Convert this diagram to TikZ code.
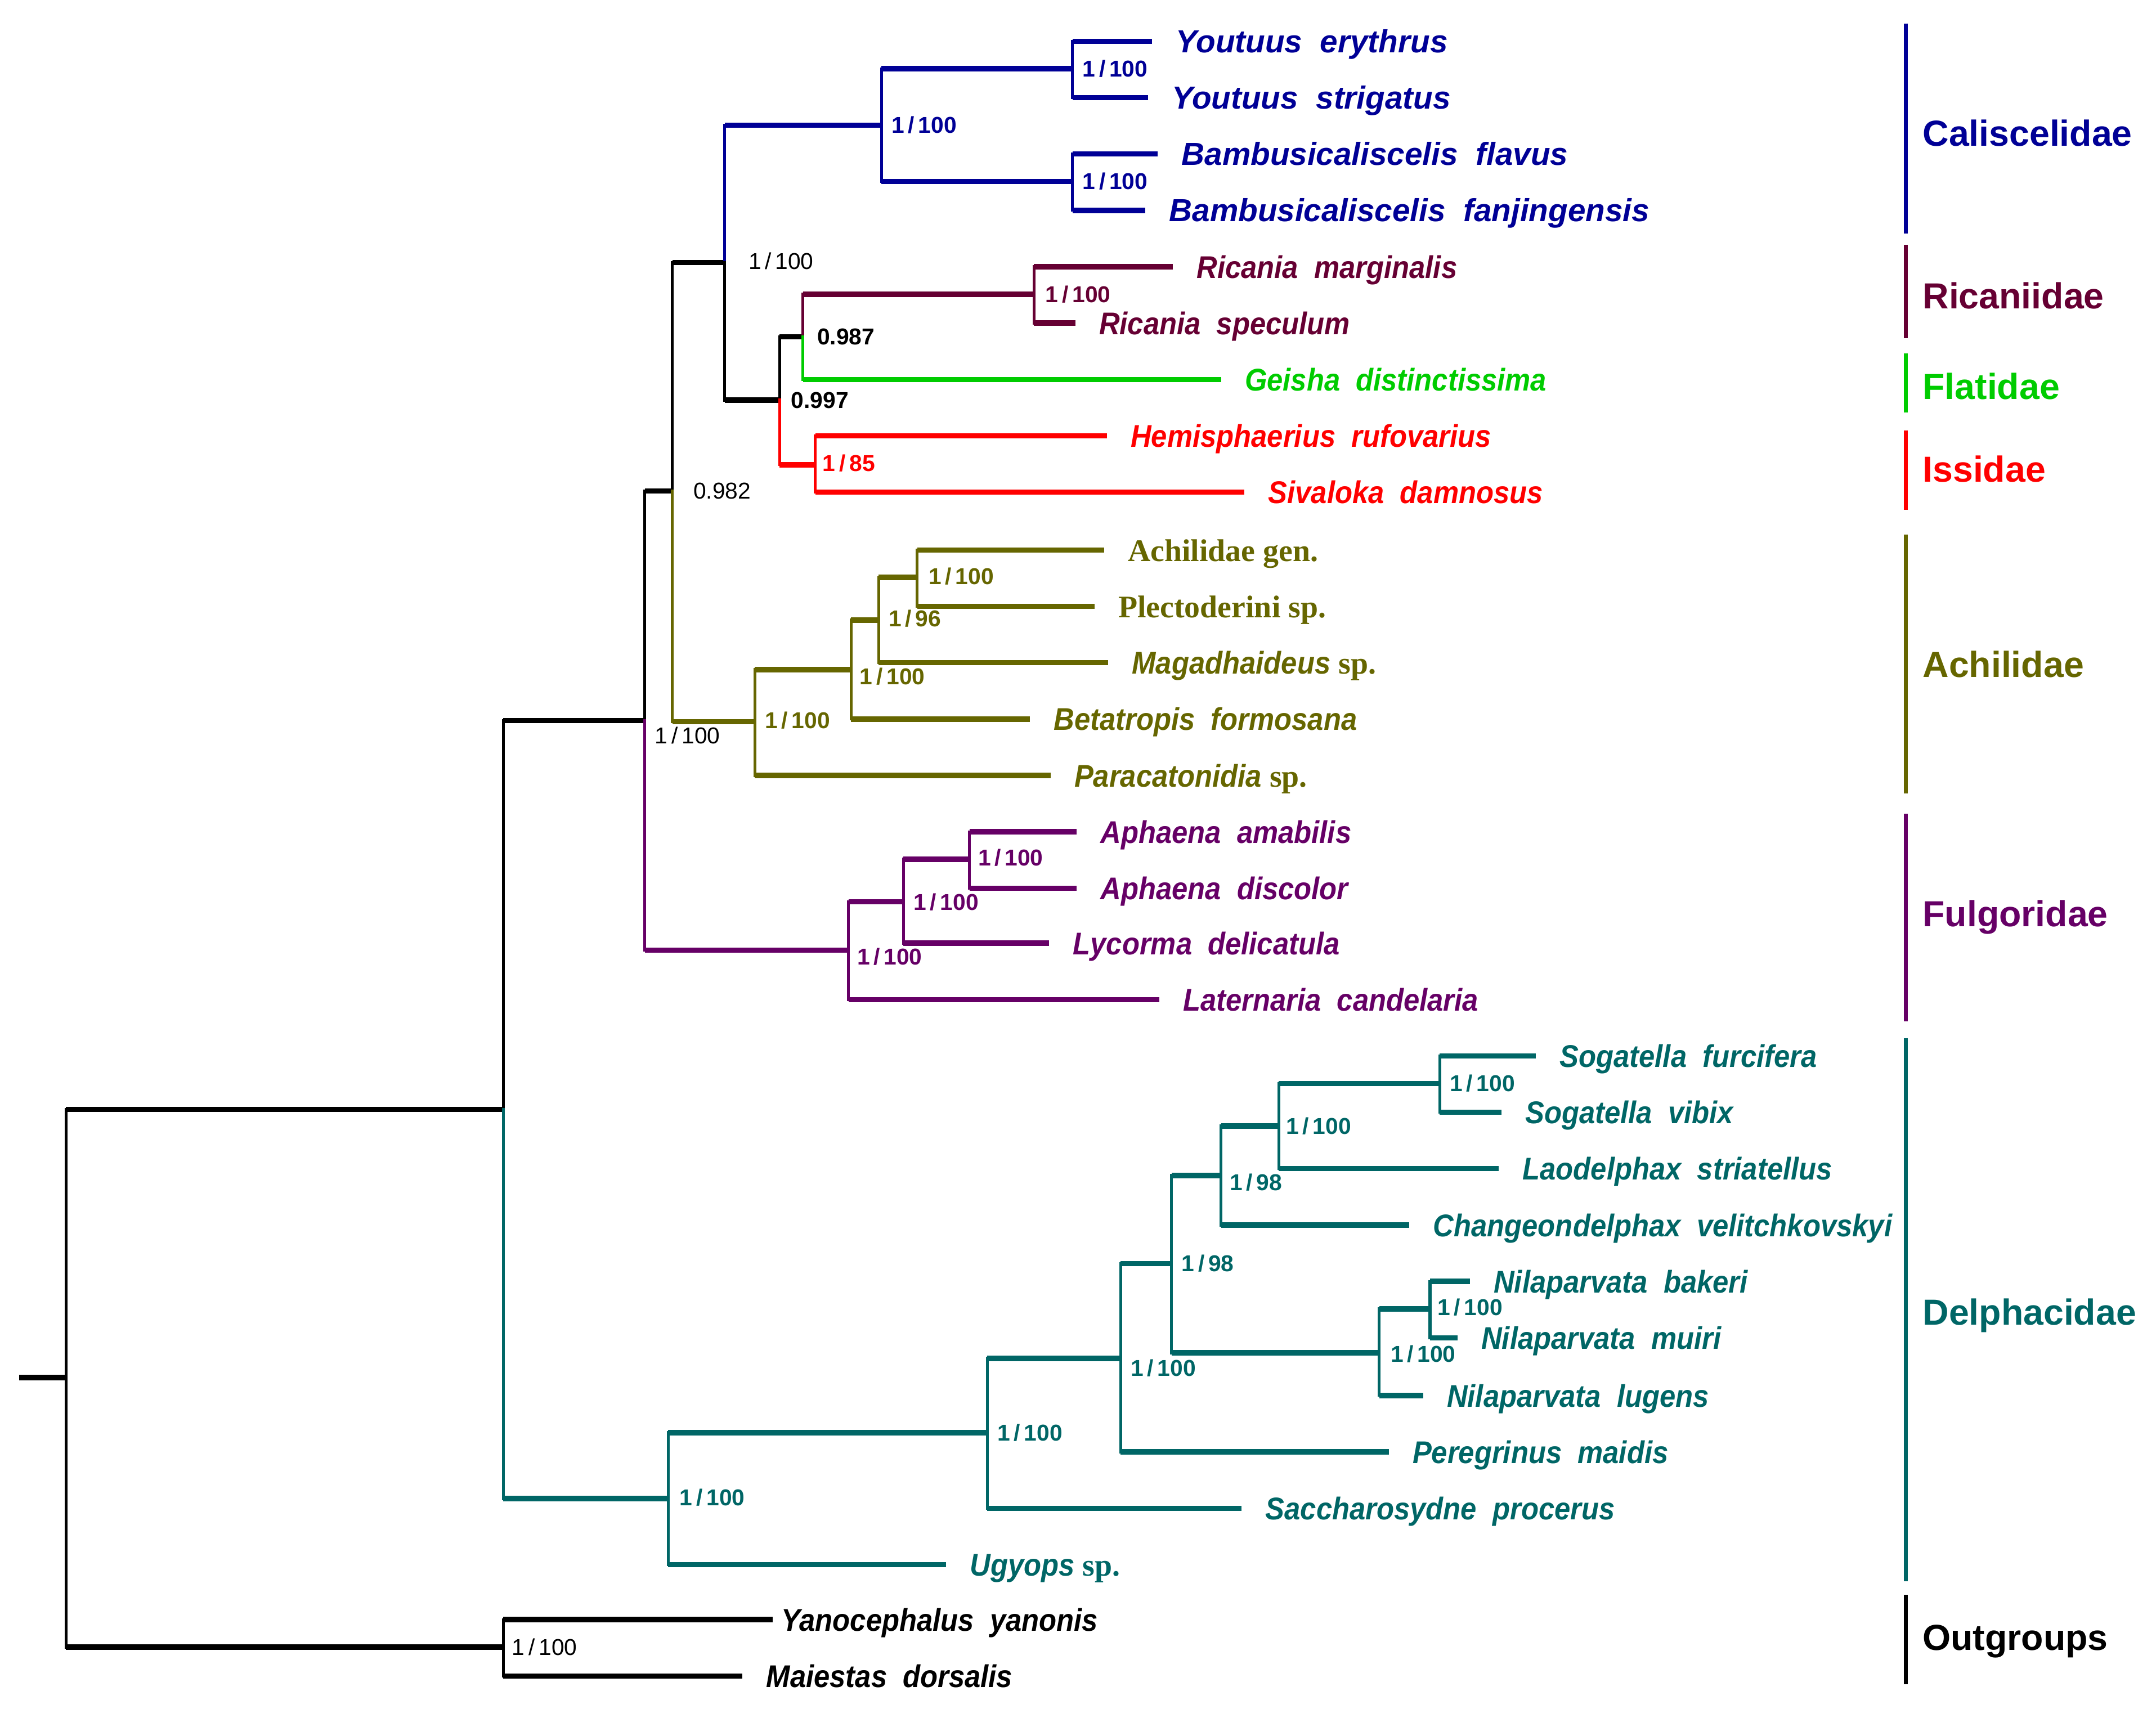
\documentclass[tikz,border=0pt]{standalone}
\usepackage{fontspec}
\setmainfont{Liberation Serif}
\setsansfont{Liberation Sans}
\newfontfamily\taxfont{Liberation Sans}[FakeStretch=0.91]
\definecolor{cblue}{RGB}{0,0,150}
\definecolor{cmar}{RGB}{102,0,51}
\definecolor{cgreen}{RGB}{0,204,0}
\definecolor{cred}{RGB}{255,0,0}
\definecolor{colive}{RGB}{102,102,0}
\definecolor{cpurp}{RGB}{102,0,102}
\definecolor{cteal}{RGB}{0,102,102}
\newcommand{\spn}{{\rmfamily\upshape sp.}}
\begin{document}
\begin{tikzpicture}
		[x=0.02cm,y=-0.02cm,
		hb/.style={line width=2.2pt},
		vb/.style={line width=1.2pt,line cap=rect},
		taxon/.style={anchor=west,inner xsep=0.34cm,inner ysep=0pt,text height=9.4pt,text depth=0pt,font=\taxfont\bfseries\itshape\fontsize{13}{13}\selectfont},
		taxonw/.style={taxon,font=\sffamily\bfseries\itshape\fontsize{13.2}{13}\selectfont},
		bs/.style={anchor=west,inner sep=0pt,font=\sffamily\bfseries\fontsize{9.5}{9.5}\selectfont},
		bsn/.style={bs,font=\sffamily\fontsize{9.5}{9.5}\selectfont},
		fam/.style={anchor=west,inner sep=0pt,font=\sffamily\bfseries\fontsize{15}{15}\selectfont},
		bar/.style={line width=1.8pt},]
		\useasboundingbox (0,0) rectangle (1568,1243);
		\coordinate (base) at (14,1002);
		\coordinate (root) at (48,1002);
		\coordinate (n1) at (366,807);
		\coordinate (og) at (366,1198);
		\coordinate (n2) at (469,524);
		\coordinate (n3) at (489,357);
		\coordinate (n4) at (527,191);
		\coordinate (n5) at (567,291);
		\coordinate (n6) at (584,245);
		\coordinate (cal) at (641,91);
		\coordinate (cal1) at (780,50);
		\coordinate (cal2) at (780,132);
		\coordinate (ric) at (752,214);
		\coordinate (iss) at (593,338);
		\coordinate (ach) at (549,525);
		\coordinate (ach1) at (619,487);
		\coordinate (ach2) at (639,451);
		\coordinate (ach3) at (667,420);
		\coordinate (ful) at (617,691);
		\coordinate (ful1) at (657,656);
		\coordinate (ful2) at (705,625);
		\coordinate (del) at (486,1090);
		\coordinate (del1) at (718,1042);
		\coordinate (del2) at (815,988);
		\coordinate (del3) at (852,919);
		\coordinate (del4) at (888,855);
		\coordinate (del5) at (930,819);
		\coordinate (del6) at (1047,788);
		\coordinate (del7) at (1003,984);
		\coordinate (del8) at (1040,952);
		% taxa
		\node[taxonw,cblue] (yer) at (838,30) {Youtuus\ \ erythrus};
		\node[taxonw,cblue] (ystr) at (835,71) {Youtuus\ \ strigatus};
		\node[taxonw,cblue] (bfla) at (842,112) {Bambusicaliscelis\ \ flavus};
		\node[taxonw,cblue] (bfan) at (833,153) {Bambusicaliscelis\ \ fanjingensis};
		\node[taxon,cmar] (rmar) at (853,194) {Ricania\ \ marginalis};
		\node[taxon,cmar] (rspe) at (782,235) {Ricania\ \ speculum};
		\node[taxon,cgreen] (gei) at (888,276) {Geisha\ \ distinctissima};
		\node[taxon,cred] (hem) at (805,317) {Hemisphaerius\ \ rufovarius};
		\node[taxon,cred] (siv) at (905,358) {Sivaloka\ \ damnosus};
		\node[taxon,colive] (agen) at (803,400) {\rmfamily\upshape Achilidae gen.};
		\node[taxon,colive] (ple) at (796,441) {\rmfamily\upshape Plectoderini sp.};
		\node[taxon,colive] (mag) at (806,482) {Magadhaideus \spn};
		\node[taxon,colive] (bet) at (749,523) {Betatropis\ \ formosana};
		\node[taxon,colive] (par) at (764,564) {Paracatonidia \spn};
		\node[taxon,cpurp] (aam) at (783,605) {Aphaena\ \ amabilis};
		\node[taxon,cpurp] (adi) at (783,646) {Aphaena\ \ discolor};
		\node[taxon,cpurp] (lyc) at (763,686) {Lycorma\ \ delicatula};
		\node[taxon,cpurp] (lat) at (843,727) {Laternaria\ \ candelaria};
		\node[taxon,cteal] (sfu) at (1117,768) {Sogatella\ \ furcifera};
		\node[taxon,cteal] (svi) at (1092,809) {Sogatella\ \ vibix};
		\node[taxon,cteal] (lao) at (1090,850) {Laodelphax\ \ striatellus};
		\node[taxon,cteal] (cha) at (1025,891) {Changeondelphax\ \ velitchkovskyi};
		\node[taxon,cteal] (nba) at (1069,932) {Nilaparvata\ \ bakeri};
		\node[taxon,cteal] (nmu) at (1060,973) {Nilaparvata\ \ muiri};
		\node[taxon,cteal] (nlu) at (1035,1015) {Nilaparvata\ \ lugens};
		\node[taxon,cteal] (per) at (1010,1056) {Peregrinus\ \ maidis};
		\node[taxon,cteal] (sac) at (903,1097) {Saccharosydne\ \ procerus};
		\node[taxon,cteal] (ugy) at (688,1138) {Ugyops \spn};
		\node[taxon,black,inner xsep=0.12cm] (yan) at (562,1178) {Yanocephalus\ \ yanonis};
		\node[taxon,black] (mai) at (540,1219) {Maiestas\ \ dorsalis};
		% branches
		\draw[hb] (base) -- (root);
		\foreach \p/\q/\c in {root/n1/black,root/og/black,n1/n2/black,n1/del/cteal,
			n2/n3/black,n2/ful/cpurp,n3/n4/black,n3/ach/colive,n4/cal/cblue,n4/n5/black,
			n5/n6/black,n5/iss/cred,n6/ric/cmar,n6/gei/cgreen,
			cal/cal1/cblue,cal/cal2/cblue,cal1/yer/cblue,cal1/ystr/cblue,cal2/bfla/cblue,cal2/bfan/cblue,
			ric/rmar/cmar,ric/rspe/cmar,iss/hem/cred,iss/siv/cred,
			ach/ach1/colive,ach/par/colive,ach1/ach2/colive,ach1/bet/colive,ach2/ach3/colive,ach2/mag/colive,ach3/agen/colive,ach3/ple/colive,
			ful/ful1/cpurp,ful/lat/cpurp,ful1/ful2/cpurp,ful1/lyc/cpurp,ful2/aam/cpurp,ful2/adi/cpurp,
			del/del1/cteal,del/ugy/cteal,del1/del2/cteal,del1/sac/cteal,del2/del3/cteal,del2/per/cteal,
			del3/del4/cteal,del3/del7/cteal,del4/del5/cteal,del4/cha/cteal,del5/del6/cteal,del5/lao/cteal,
			del6/sfu/cteal,del6/svi/cteal,del7/del8/cteal,del7/nlu/cteal,del8/nba/cteal,del8/nmu/cteal,
			og/yan/black,og/mai/black}
		{
			\draw[vb,\c] (\p) -- (\p |- \q);
			\draw[hb,\c] (\p |- \q) -- (\q);
		}
		% support values
		\node[bsn] (s1) at (544,190) {1\,/\,100};
		\node[bsn] (s2) at (504,357) {0.982};
		\node[bsn] (s3) at (476,535) {1\,/\,100};
		\node[bsn] (s4) at (372,1198) {1\,/\,100};
		\node[bs] (s5) at (594,245) {0.987};
		\node[bs] (s6) at (575,291) {0.997};
		\foreach \x/\y/\n/\c in {648/91/100/cblue,787/50/100/cblue,787/132/100/cblue,
			760/214/100/cmar,598/337/85/cred,
			556/524/100/colive,625/492/100/colive,646/450/96/colive,675/419/100/colive,
			623/696/100/cpurp,664/656/100/cpurp,711/624/100/cpurp,
			494/1089/100/cteal,725/1042/100/cteal,822/995/100/cteal,859/919/98/cteal,
			894/860/98/cteal,935/819/100/cteal,1054/788/100/cteal,1011/985/100/cteal,1045/951/100/cteal}
			\node[bs,\c] at (\x,\y) {1\,/\,\n};
		% families
		\foreach \t/\a/\b/\m/\c in {Caliscelidae/17/170/97/cblue,Ricaniidae/178/246/215/cmar,
			Flatidae/257/300/281/cgreen,Issidae/313/371/341/cred,Achilidae/389/577/483/colive,
			Fulgoridae/592/743/667/cpurp,Delphacidae/755/1150/957/cteal,Outgroups/1160/1225/1194/black}
		{
			\draw[bar,\c] (1386,\a) -- (1386,\b);
			\node[fam,\c] (\t) at (1398,\m) {\t};
		}
	\end{tikzpicture}
\end{document}
